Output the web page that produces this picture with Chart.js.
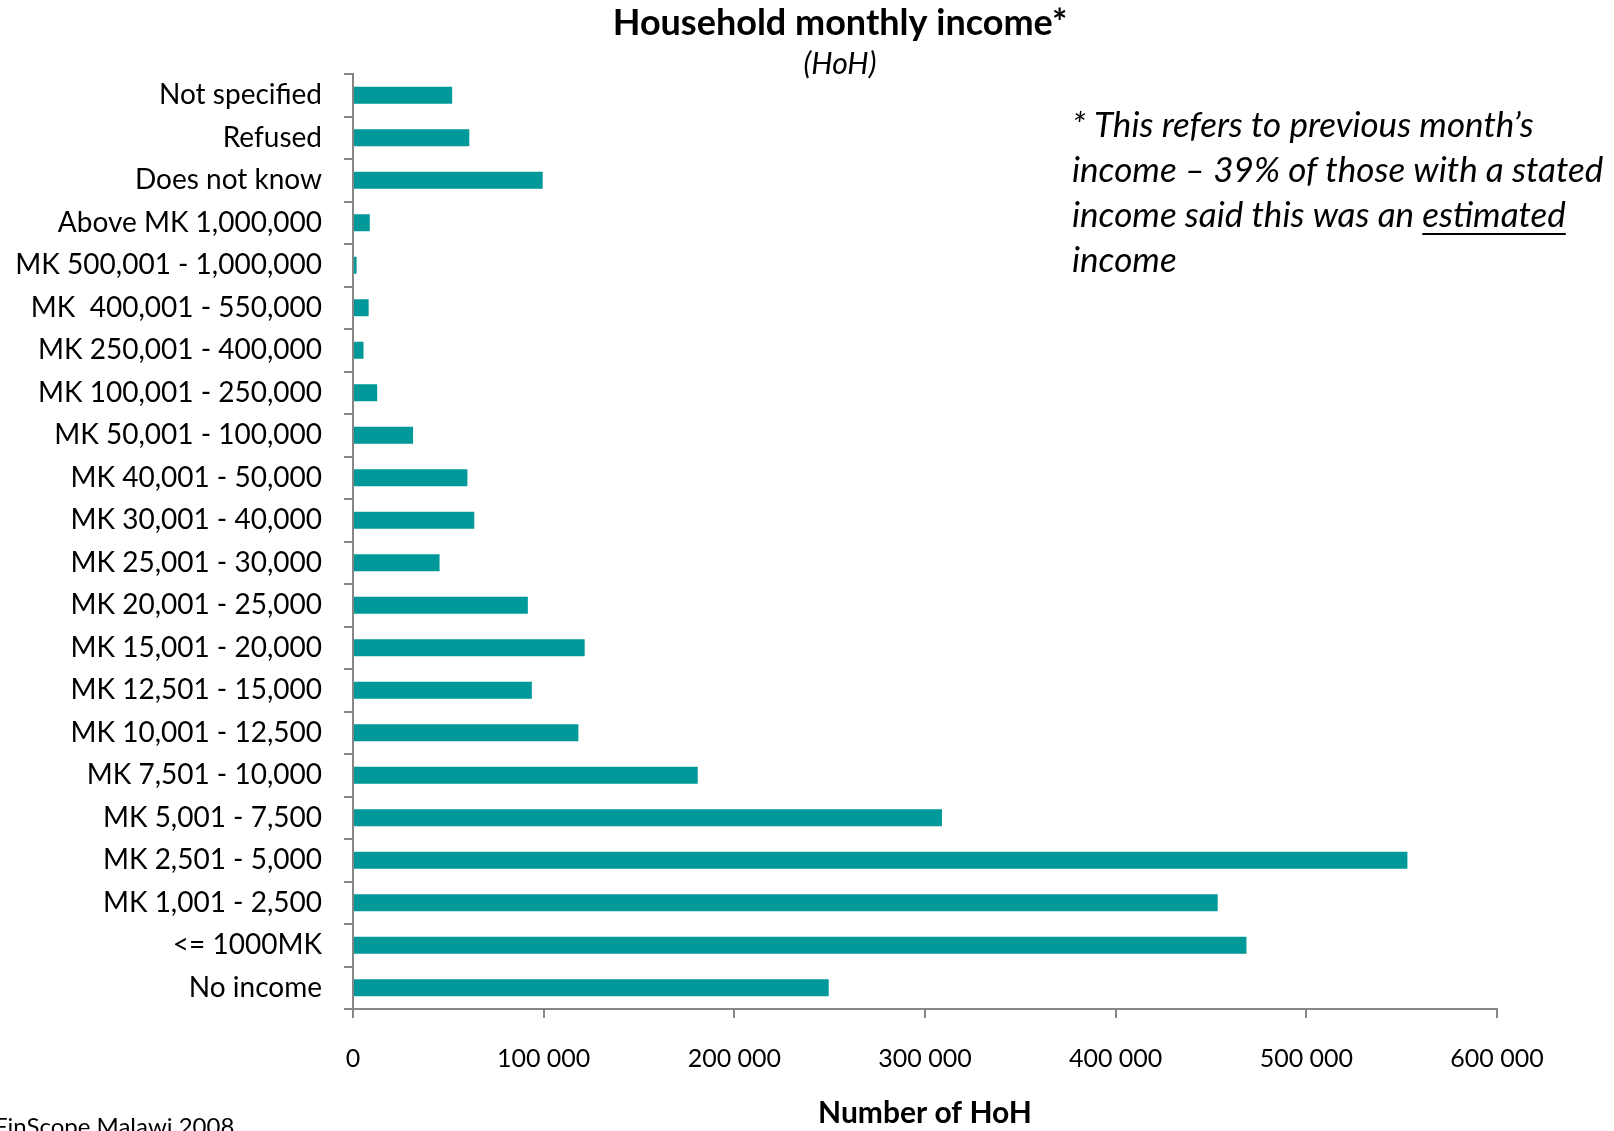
<!DOCTYPE html>
<html>
<head>
<meta charset="utf-8">
<script src="https://cdn.jsdelivr.net/npm/chart.js@4.4.1/dist/chart.umd.min.js"></script>
<style>
  html, body { margin: 0; padding: 0; background: #fff; overflow: hidden; }
  #wrap { position: relative; width: 1614px; height: 1131px; }
</style>
</head>
<body>
<div id="wrap"><canvas id="incomeChart" width="1614" height="1131"></canvas></div>
<script>
// income bands, top to bottom as shown
const incomeBands = [
    'Not specified', 'Refused', 'Does not know', 'Above MK 1,000,000',
    'MK 500,001 - 1,000,000', 'MK  400,001 - 550,000', 'MK 250,001 - 400,000',
    'MK 100,001 - 250,000', 'MK 50,001 - 100,000', 'MK 40,001 - 50,000',
    'MK 30,001 - 40,000', 'MK 25,001 - 30,000', 'MK 20,001 - 25,000',
    'MK 15,001 - 20,000', 'MK 12,501 - 15,000', 'MK 10,001 - 12,500',
    'MK 7,501 - 10,000', 'MK 5,001 - 7,500', 'MK 2,501 - 5,000',
    'MK 1,001 - 2,500', '<= 1000MK', 'No income'
];
// number of heads of household
const hohCounts = [
    52000, 61000, 99500, 8800,
    1900, 8200, 5500,
    12700, 31500, 60000,
    63600, 45400, 91700,
    121500, 93800, 118200,
    180800, 308900, 553000,
    453500, 468600, 249500
];
const xTicks = [0, 100000, 200000, 300000, 400000, 500000, 600000];

const chartTitle = 'Household monthly income*';
const chartSubtitle = '(HoH)';
const noteLines = [
    '* This refers to previous month\u2019s',
    'income \u2013 39% of those with a stated',
    'income said this was an ',
    'income'
];
const sourceText = 'FinScope Malawi 2008';

const FONT = 'Lato, "Noto Sans", sans-serif';
const AXIS_GREY = '#868686';

// title, footnote and source are drawn straight on the canvas
const textPlugin = {
    id: 'extraText',
    afterDraw(chart) {
        const ctx = chart.ctx;
        ctx.save();
        ctx.fillStyle = '#000';
        ctx.textAlign = 'center';
        ctx.textBaseline = 'middle';
        ctx.font = 'bold 36px ' + FONT;
        ctx.fillText(chartTitle, 840, 23);
        ctx.font = 'italic 30px ' + FONT;
        ctx.fillText(chartSubtitle, 840, 64);

        ctx.textAlign = 'left';
        ctx.font = 'italic 35px ' + FONT;
        const noteX = 1072;
        noteLines.forEach((line, i) => {
            ctx.fillText(line, noteX, 126 + i * 45);
        });
        // underlined word on the third line
        const lead = ctx.measureText(noteLines[2]).width;
        const word = 'estimated';
        ctx.fillText(word, noteX + lead, 216);
        const w = ctx.measureText(word).width;
        ctx.fillRect(noteX + lead, 233, w, 2);

        ctx.font = '24px ' + FONT;
        ctx.fillText(sourceText, -6, 1127);
        ctx.restore();
    }
};

const ctx = document.getElementById('incomeChart').getContext('2d');
new Chart(ctx, {
    type: 'bar',
    data: {
        labels: incomeBands,
        datasets: [{
            data: hohCounts,
            backgroundColor: '#009999',
            borderWidth: 0,
            categoryPercentage: 1.0,
            barPercentage: 0.4
        }]
    },
    options: {
        indexAxis: 'y',
        responsive: false,
        animation: false,
        layout: { padding: { top: 74, right: 117, left: 0, bottom: 0 } },
        plugins: {
            legend: { display: false },
            tooltip: { enabled: false }
        },
        scales: {
            y: {
                afterFit(scale) { scale.width = 353; },
                grid: {
                    offset: true,
                    drawOnChartArea: false,
                    tickLength: 9,
                    color: AXIS_GREY,
                    lineWidth: 2
                },
                border: { display: true, color: AXIS_GREY, width: 2 },
                ticks: {
                    color: '#000',
                    padding: 22,
                    font: { family: FONT, size: 28 },
                    autoSkip: false
                }
            },
            x: {
                min: 0,
                max: 600000,
                afterFit(scale) { scale.height = 122; },
                afterBuildTicks(scale) {
                    scale.ticks = xTicks.map(v => ({ value: v }));
                },
                grid: {
                    drawOnChartArea: false,
                    tickLength: 9,
                    color: AXIS_GREY,
                    lineWidth: 2
                },
                border: { display: true, color: AXIS_GREY, width: 2 },
                ticks: {
                    color: '#000',
                    padding: 26,
                    maxRotation: 0,
                    font: { family: FONT, size: 25 },
                    callback: v => v === 0 ? '0' : String(v).replace(/\B(?=(\d{3})+(?!\d))/g, ' ')
                },
                title: {
                    display: true,
                    text: 'Number of HoH',
                    color: '#000',
                    padding: { top: 0, bottom: 0 },
                    font: { family: FONT, size: 30, weight: 'bold' }
                }
            }
        }
    },
    plugins: [textPlugin]
});
</script>
</body>
</html>
